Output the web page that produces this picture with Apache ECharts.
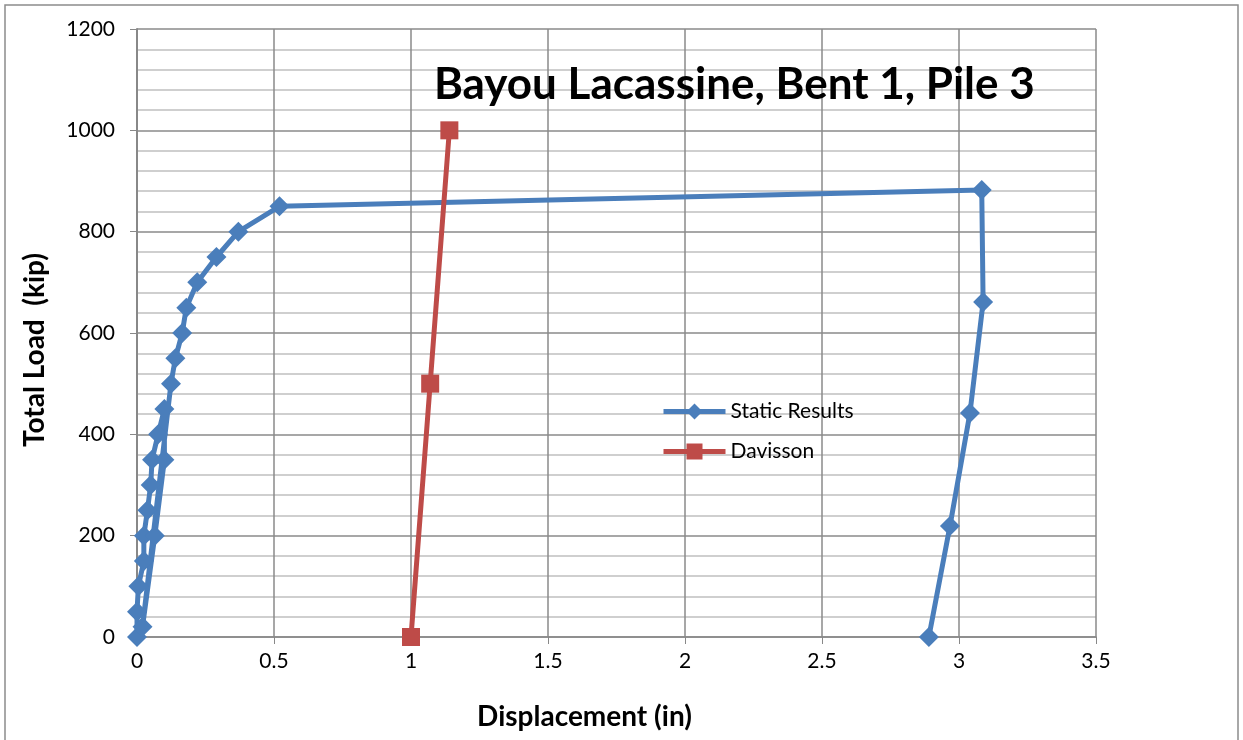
<!DOCTYPE html>
<html>
<head>
<meta charset="utf-8">
<script src="https://cdn.jsdelivr.net/npm/echarts@6/dist/echarts.min.js"></script>
<style>
  html, body { margin: 0; padding: 0; background: #fff; }
  #main { width: 1243px; height: 740px; }
</style>
</head>
<body>
<div id="main"></div>
<script>
// pile load test data
var staticDisp = [0, 0.0, 0.005, 0.025, 0.025, 0.038, 0.05, 0.055, 0.077, 0.1,
                  0.1, 0.065, 0.02,
                  0.124, 0.14, 0.165, 0.18, 0.22, 0.29, 0.37, 0.52,
                  3.083, 3.088, 3.04, 2.967, 2.89];
var staticLoad = [0, 50, 100, 150, 200, 250, 300, 350, 400, 450,
                  350, 200, 20,
                  500, 550, 600, 650, 700, 750, 800, 850,
                  882, 661, 442, 219, 0];
var davDisp = [1.0, 1.07, 1.14];
var davLoad = [0, 500, 1000];

var xTicks = [0, 0.5, 1, 1.5, 2, 2.5, 3, 3.5];
var yTicks = [0, 200, 400, 600, 800, 1000, 1200];

function pairs(xs, ys) {
  return xs.map(function (x, i) { return [x, ys[i]]; });
}

var font = 'Lato, "Open Sans", sans-serif';
var blue = '#4a7ebb', red = '#be4b48';
var chart = echarts.init(document.getElementById('main'));
chart.setOption({
  animation: false,
  backgroundColor: '#fff',
  textStyle: { fontFamily: font },
  title: {
    text: 'Bayou Lacassine, Bent 1, Pile 3',
    left: 429, top: 58,
    textStyle: { fontSize: 44, fontWeight: 'bold', color: '#000', fontFamily: font }
  },
  graphic: [{
    type: 'rect',
    shape: { x: 5, y: 5, width: 1233, height: 760 },
    style: { fill: 'none', stroke: '#8c8c8c', lineWidth: 1.5 },
    silent: true
  }],
  legend: {
    orient: 'vertical',
    left: 656, top: 396,
    itemWidth: 62, itemHeight: 20, itemGap: 19,
    textStyle: { fontSize: 21, color: '#000', fontFamily: font },
    data: [
      { name: 'Static Results', lineStyle: { width: 5, color: blue } },
      { name: 'Davisson', lineStyle: { width: 5, color: red } }
    ]
  },
  grid: { left: 137, right: 147, top: 29, bottom: 103 },
  xAxis: {
    type: 'value',
    min: xTicks[0], max: xTicks[xTicks.length - 1], interval: 0.5,
    name: 'Displacement (in)',
    nameLocation: 'middle', nameGap: 66,
    nameTextStyle: { fontSize: 28, fontWeight: 'bold', color: '#000', fontFamily: font,
                     padding: [0, 64, 0, 0] },
    axisLine: { show: true, lineStyle: { color: '#888', width: 1.5 } },
    axisTick: { show: true, length: 7, lineStyle: { color: '#888' } },
    axisLabel: { fontSize: 21, color: '#000', margin: 14, fontFamily: font },
    splitLine: { show: true, lineStyle: { color: '#8a8a8a', width: 1.5 } }
  },
  yAxis: {
    type: 'value',
    min: yTicks[0], max: yTicks[yTicks.length - 1], interval: 200,
    name: 'Total Load  (kip)',
    nameLocation: 'middle', nameGap: 88,
    nameTextStyle: { fontSize: 28, fontWeight: 'bold', color: '#000', fontFamily: font,
                     padding: [0, 34, 0, 0] },
    axisLine: { show: true, lineStyle: { color: '#888', width: 2 } },
    axisTick: { show: true, length: 7, lineStyle: { color: '#888' } },
    axisLabel: { fontSize: 21, color: '#000', margin: 22, fontFamily: font,
                 formatter: function (v) { return String(v); } },
    splitLine: { show: true, lineStyle: { color: '#8a8a8a', width: 1.5 } },
    minorTick: { show: false, splitNumber: 5 },
    minorSplitLine: { show: true, lineStyle: { color: '#c0c0c0', width: 1.5 } }
  },
  series: [{
    name: 'Static Results',
    type: 'line',
    data: pairs(staticDisp, staticLoad),
    symbol: 'diamond', symbolSize: 20,
    lineStyle: { color: blue, width: 5 },
    itemStyle: { color: blue }
  }, {
    name: 'Davisson',
    type: 'line',
    data: pairs(davDisp, davLoad),
    symbol: 'rect', symbolSize: 18,
    lineStyle: { color: red, width: 5 },
    itemStyle: { color: red }
  }]
});
</script>
</body>
</html>
